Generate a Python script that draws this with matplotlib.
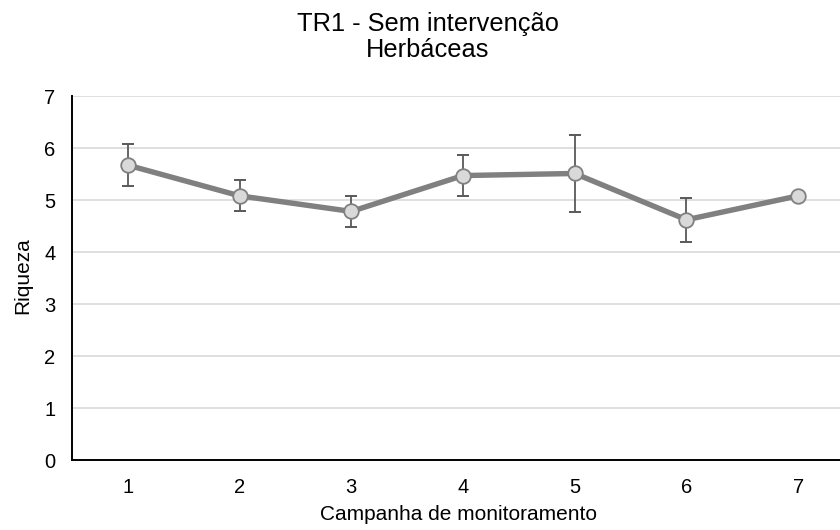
import matplotlib.pyplot as plt

plt.rcParams['font.family'] = ['Liberation Sans', 'DejaVu Sans']

# valores
campanhas = [1, 2, 3, 4, 5, 6, 7]
riqueza = [5.67, 5.08, 4.78, 5.47, 5.51, 4.62, 5.08]
erro = [0.40, 0.30, 0.30, 0.40, 0.74, 0.42, 0.0]

fig = plt.figure(figsize=(8.4, 5.3), dpi=100)
ax = fig.add_axes([72 / 840, 70 / 530, 782 / 840, 364 / 530])

# erro só onde existe
xe = [c for c, e in zip(campanhas, erro) if e > 0]
ye = [r for r, e in zip(riqueza, erro) if e > 0]
ee = [e for e in erro if e > 0]

ax.plot(campanhas, riqueza, color='#808080', lw=3.9, zorder=3, solid_capstyle='round')
ax.errorbar(xe, ye, yerr=ee, fmt='none', ecolor='#595959', elinewidth=1.3,
            capsize=4.5, capthick=1.4, zorder=4)
ax.plot(campanhas, riqueza, 'o', ms=10.5, mfc='#d9d9d9', mec='#808080', mew=1.3, zorder=5)

ax.set_xlim(0.5, 7.5)
ax.set_ylim(0, 7)
ax.set_xticks(campanhas)
ax.set_yticks(range(0, 8))
ax.tick_params(length=0, labelsize=14.5)
ax.tick_params(axis='x', pad=13)
ax.tick_params(axis='y', pad=12)
ax.grid(axis='y', color='#d9d9d9', lw=1.2)
ax.set_axisbelow(True)
for s in ['top', 'right']:
    ax.spines[s].set_visible(False)
ax.spines['left'].set_linewidth(1.4)
ax.spines['bottom'].set_linewidth(1.4)

fig.text(459 / 840, 1 - 515 / 530, 'Campanha de monitoramento', ha='center', va='center', fontsize=15)
fig.text(23 / 840, 1 - 276 / 530, 'Riqueza', ha='center', va='center', rotation=90, fontsize=15)
fig.text(428 / 840, 1 - 37 / 530, 'TR1 - Sem intervenção\nHerbáceas', ha='center', va='center',
         fontsize=18.3, linespacing=1.15)

fig.savefig('out.png', dpi=100)
